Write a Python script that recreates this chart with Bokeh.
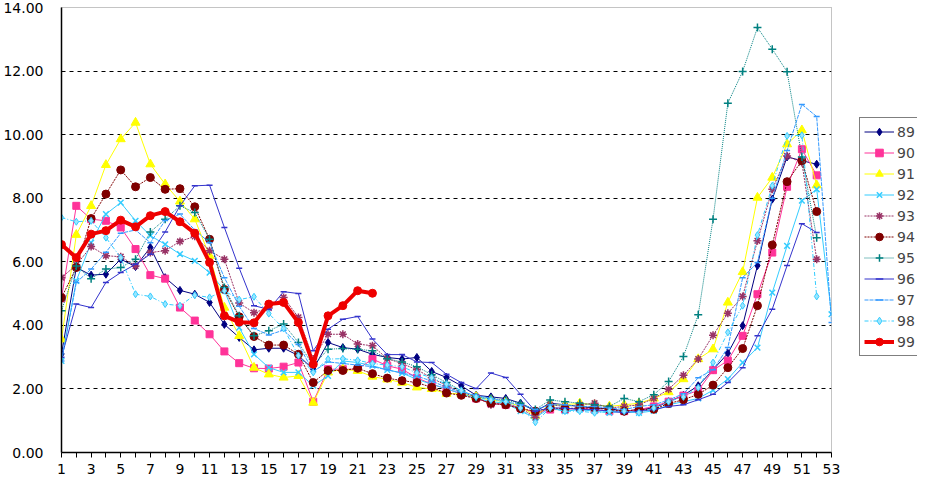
import math
from bokeh.plotting import figure
from bokeh.layouts import row
from bokeh.models import (ColumnDataSource, Range1d, FixedTicker, Legend, LegendItem,
                          PrintfTickFormatter)
from bokeh.embed import file_html
from bokeh.resources import INLINE

nan = float("nan")

weeks = list(range(1, 54))
x_tick_labels = [str(w) for w in range(1, 54, 2)]
y_ticks = [0, 2, 4, 6, 8, 10, 12, 14]

s89 = [3.1, 5.82, 5.58, 5.61, 6.08, 5.85, 6.45, 5.5, 5.1, 4.98, 4.72, 4.03, 3.62, 3.23, 3.28, 3.28, 3.05, 2.62, 3.46, 3.3,
       3.25, 3.09, 2.99, 2.94, 2.99, 2.55, 2.36, 2.1, 1.8, 1.75, 1.7, 1.55, 1.3, 1.55, 1.5, 1.45, 1.4, 1.38, 1.3, 1.35,
       1.4, 1.6, 1.8, 2.1, 2.6, 3.12, 3.99, 5.88, 7.97, 9.3, 9.18, 9.07, nan]
s90 = [4.85, 7.76, 7.34, 7.29, 7.08, 6.4, 5.58, 5.47, 4.56, 4.15, 3.72, 3.18, 2.81, 2.65, 2.64, 2.7, 2.83, 1.6, 2.62, 2.62,
       2.62, 2.94, 2.73, 2.62, 2.35, 2.15, 2.0, 1.85, 1.7, 1.55, 1.5, 1.4, 1.25, 1.35, 1.35, 1.4, 1.35, 1.3, 1.3, 1.35,
       1.45, 1.6, 1.79, 1.95, 2.59, 2.89, 3.67, 4.98, 6.29, 8.36, 9.54, 8.72, nan]
s91 = [3.56, 6.85, 7.76, 9.05, 9.86, 10.38, 9.07, 8.44, 7.9, 7.34, 6.19, 4.56, 3.67, 2.67, 2.46, 2.36, 2.41, 1.57, 2.52, 2.62,
       2.57, 2.39, 2.3, 2.2, 2.05, 2.0, 1.85, 1.85, 1.75, 1.65, 1.6, 1.45, 1.15, 1.5, 1.5, 1.55, 1.5, 1.45, 1.5, 1.55,
       1.7, 1.9, 2.31, 2.94, 3.25, 4.72, 5.68, 8.02, 8.65, 9.7, 10.14, 8.41, nan]
s92 = [2.88, 5.4, 6.6, 7.5, 7.86, 7.29, 6.82, 6.55, 6.24, 6.03, 5.66, 5.1, 3.93, 3.09, 2.67, 2.52, 2.52, 2.1, 2.41, 2.88,
       2.83, 2.73, 2.6, 2.5, 2.3, 2.15, 2.0, 1.85, 1.7, 1.6, 1.55, 1.3, 1.1, 1.4, 1.3, 1.35, 1.3, 1.25, 1.3, 1.25,
       1.31, 1.5, 1.6, 1.7, 1.96, 2.31, 2.83, 3.3, 5.03, 6.5, 7.92, 8.28, 4.35]
s93 = [5.5, 5.9, 6.48, 6.19, 6.16, 5.87, 6.29, 6.35, 6.64, 6.8, 6.35, 6.08, 4.7, 4.4, 4.55, 4.88, 4.25, 2.94, 3.72, 3.72,
       3.41, 3.36, 2.95, 2.8, 2.6, 2.35, 2.1, 1.9, 1.75, 1.5, 1.55, 1.4, 1.1, 1.5, 1.45, 1.5, 1.55, 1.4, 1.45, 1.5,
       1.7, 1.99, 2.43, 2.94, 3.69, 4.38, 4.91, 6.66, 8.28, 9.33, 9.12, 6.08, nan]
s94 = [4.87, 5.82, 7.36, 8.13, 8.89, 8.36, 8.65, 8.28, 8.3, 7.73, 6.71, 5.13, 4.27, 3.65, 3.38, 3.38, 3.09, 2.2, 2.58, 2.58,
       2.65, 2.48, 2.34, 2.26, 2.2, 2.05, 1.87, 1.8, 1.7, 1.55, 1.5, 1.38, 1.3, 1.4, 1.38, 1.4, 1.4, 1.35, 1.3, 1.35,
       1.36, 1.54, 1.66, 1.83, 2.12, 2.67, 3.27, 4.62, 6.53, 8.52, 9.18, 7.58, nan]
s95 = [4.46, 5.87, 5.47, 5.77, 5.82, 6.08, 6.94, 7.34, 7.76, 7.55, 6.71, 5.19, 4.3, 3.67, 3.83, 4.04, 3.46, 2.73, 3.25, 3.27,
       3.25, 3.2, 2.95, 2.85, 2.7, 2.45, 2.2, 1.95, 1.75, 1.7, 1.65, 1.55, 1.35, 1.65, 1.6, 1.55, 1.5, 1.45, 1.7, 1.6,
       1.82, 2.23, 3.02, 4.33, 7.34, 10.99, 11.99, 13.37, 12.69, 11.98, 9.3, 6.76, nan]
s96 = [3.0, 4.67, 4.56, 5.35, 5.66, 5.92, 6.24, 6.94, 7.76, 8.39, 8.41, 7.08, 5.8, 4.62, 4.5, 5.06, 5.0, 3.2, 3.88, 4.19,
       4.28, 3.57, 3.08, 3.08, 2.85, 2.83, 2.46, 2.2, 2.01, 2.5, 2.36, 1.83, 1.3, 1.4, 1.4, 1.35, 1.35, 1.3, 1.25, 1.3,
       1.35, 1.45, 1.5, 1.66, 1.83, 2.2, 2.67, 3.67, 4.51, 5.88, 7.2, 6.92, nan]
s97 = [2.88, 5.35, 5.77, 6.3, 6.9, 7.0, 6.6, 7.3, 7.5, 7.0, 6.6, 5.5, 4.6, 3.9, 3.7, 3.85, 3.4, 2.55, 2.85, 2.8,
       2.75, 2.7, 2.6, 2.5, 2.4, 2.25, 2.05, 1.9, 1.8, 1.7, 1.6, 1.5, 1.35, 1.5, 1.5, 1.45, 1.45, 1.4, 1.35, 1.45,
       1.5, 1.65, 1.85, 2.35, 2.6, 3.3, 5.5, 5.98, 8.0, 9.5, 10.95, 10.57, 4.09]
s98 = [7.39, 7.26, 7.29, 6.76, 6.13, 4.98, 4.91, 4.67, 4.62, 4.95, 4.88, 5.09, 4.81, 4.9, 4.37, 3.9, 3.05, 2.52, 2.94, 2.95,
       2.9, 2.8, 2.75, 2.7, 2.5, 2.35, 2.15, 1.95, 1.75, 1.65, 1.6, 1.4, 0.95, 1.4, 1.3, 1.3, 1.25, 1.3, 1.3, 1.25,
       1.4, 1.6, 1.75, 2.04, 2.83, 3.78, 4.62, 6.84, 8.39, 9.96, 9.98, 4.91, nan]
s99 = [6.54, 6.13, 6.87, 6.98, 7.31, 7.1, 7.45, 7.58, 7.26, 6.9, 5.98, 4.3, 4.1, 4.08, 4.67, 4.72, 4.09, 2.78, 4.3, 4.62,
       5.09, 5.01]

series = [("89", s89), ("90", s90), ("91", s91), ("92", s92), ("93", s93), ("94", s94),
          ("95", s95), ("96", s96), ("97", s97), ("98", s98), ("99", s99)]

styles = {
    "89": dict(color="#000080", marker="diamond", size=8, dash="solid", lw=1, fill="#000080"),
    "90": dict(color="#FF3399", marker="square", size=7, dash="solid", lw=1, fill="#FF3399"),
    "91": dict(color="#FFFF00", marker="triangle", size=9, dash="solid", lw=1, fill="#FFFF00"),
    "92": dict(color="#33CCFF", marker="x", size=8, dash="solid", lw=1, fill="#33CCFF"),
    "93": dict(color="#993366", marker="asterisk", size=8, dash="2 1", lw=1, fill="#993366"),
    "94": dict(color="#800000", marker="circle", size=8, dash="2 1", lw=1, fill="#800000"),
    "95": dict(color="#008080", marker="cross", size=8, dash="1 1", lw=1, fill="#008080"),
    "96": dict(color="#3333CC", marker="dash", size=6, dash="solid", lw=1, fill="#3333CC"),
    "97": dict(color="#3399FF", marker="dash", size=6, dash="4 1", lw=1, fill="#3399FF"),
    "98": dict(color="#33CCFF", marker="diamond", size=7, dash="4 2 1 2", lw=1, fill="#99E6FF"),
    "99": dict(color="#EE0000", marker="circle", size=8, dash="solid", lw=4, fill="#EE0000"),
}

p = figure(width=841, height=478, output_backend="svg", toolbar_location=None,
           x_range=Range1d(1, 53), y_range=Range1d(0, 14),
           min_border_left=59, min_border_right=10, min_border_top=7, min_border_bottom=26)
p.background_fill_color = "white"
p.border_fill_color = "white"
p.outline_line_color = "#888888"
p.outline_line_dash = "1 1"

# legend-only figure to the right (same data, drawn off-range)
pl = figure(width=76, height=478, output_backend="svg", toolbar_location=None,
            x_range=Range1d(1000, 1001), y_range=Range1d(1000, 1001),
            min_border_left=0, min_border_right=0, min_border_top=0, min_border_bottom=0)
pl.axis.visible = False
pl.grid.visible = False
pl.outline_line_color = None
pl.background_fill_color = "white"
pl.border_fill_color = "white"

items = []
for name, vals in series:
    st = styles[name]
    src = ColumnDataSource(dict(x=weeks[:len(vals)], y=vals))
    mlw = 1.5 if st["marker"] in ("x", "cross", "asterisk", "dash") else 1
    for fig in (p, pl):
        ln = fig.line("x", "y", source=src, line_color=st["color"], line_width=st["lw"],
                      line_dash=st["dash"])
        sc = fig.scatter("x", "y", source=src, marker=st["marker"], size=st["size"],
                         line_color=st["color"], fill_color=st["fill"], line_width=mlw)
    items.append(LegendItem(label=name, renderers=[ln, sc]))

# axes
p.xaxis.ticker = FixedTicker(ticks=list(range(1, 54, 2)), minor_ticks=list(range(2, 54, 2)))
p.xaxis.major_label_overrides = {w: lab for w, lab in zip(range(1, 54, 2), x_tick_labels)}
p.xaxis.major_tick_out = 5
p.xaxis.major_tick_in = 0
p.xaxis.minor_tick_out = 5
p.xaxis.minor_tick_in = 0
p.xaxis.major_tick_line_color = "black"
p.xaxis.minor_tick_line_color = "black"
p.xaxis.major_label_standoff = 6
p.yaxis.ticker = FixedTicker(ticks=y_ticks)
p.yaxis.formatter = PrintfTickFormatter(format="%.2f")
p.yaxis.major_tick_line_color = None
p.yaxis.minor_tick_line_color = None
p.yaxis.major_label_standoff = 12
for ax in (p.xaxis, p.yaxis):
    ax.axis_line_color = "black"
    ax.axis_line_width = 1.5
    ax.major_label_text_font = "DejaVu Sans"
    ax.major_label_text_font_size = "14px"
    ax.major_label_text_color = "black"

p.xgrid.grid_line_color = None
p.ygrid.ticker = FixedTicker(ticks=[2, 4, 6, 8, 10, 12])
p.ygrid.grid_line_color = "black"
p.ygrid.grid_line_dash = "4 4"
p.ygrid.grid_line_width = 1

legend = Legend(items=items, location=(18, 96), orientation="vertical")
legend.border_line_color = "black"
legend.border_line_width = 1
legend.background_fill_color = "white"
legend.background_fill_alpha = 1
legend.label_text_font = "DejaVu Sans"
legend.label_text_font_size = "14px"
legend.glyph_width = 30
legend.glyph_height = 19
legend.label_height = 19
legend.label_standoff = 3
legend.spacing = 2
legend.padding = 4
legend.margin = 0
pl.add_layout(legend, "center")

layout = row(p, pl, spacing=0)
open("out.html", "w").write(file_html(layout, INLINE))
